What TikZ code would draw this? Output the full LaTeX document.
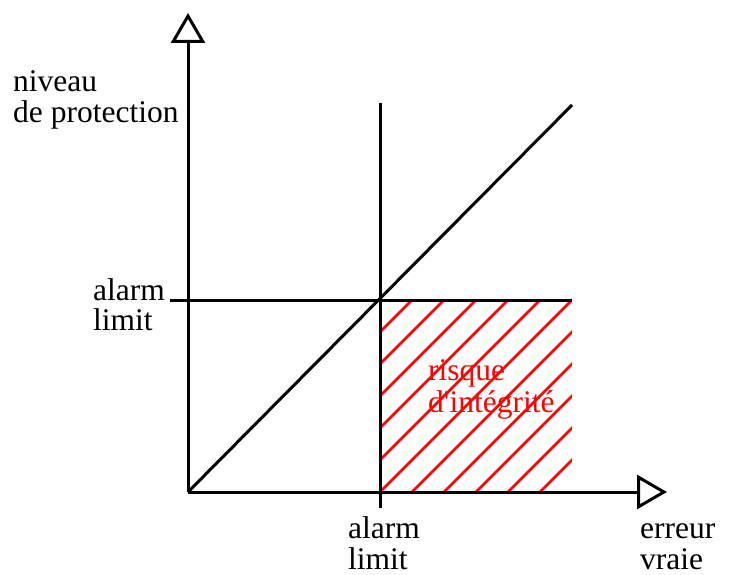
\documentclass[tikz,border=0pt]{standalone}
\usepackage{fontspec}
\setmainfont{Liberation Serif}
\usetikzlibrary{arrows.meta}
\begin{document}
\begin{tikzpicture}[x=1pt,y=-1pt,
  lbl/.style={anchor=base west,inner sep=0pt,font=\fontsize{31.5}{32}\selectfont},
  axis/.style={line width=3pt,-{Triangle[open,length=30pt,width=34pt]}},
  ln/.style={line width=3pt},
  hatch/.style={red,line width=2.6pt}]
\useasboundingbox (0,0) rectangle (731,575);
\coordinate (O) at (188,492);
\coordinate (ytip) at (188,13);
\coordinate (xtip) at (667,492);
\coordinate (vtop) at (380,103);
\coordinate (vbot) at (380,508);
\coordinate (hl) at (170,300);
\coordinate (hr) at (572,300);
\coordinate (dtop) at (572,105);
% hatching
\begin{scope}
  \clip (380,300) rectangle (572,492);
  \foreach \c in {-160,-128,...,160}
    \draw[hatch] (380+\c-60,492+60) -- (380+\c+260,492-260);
\end{scope}
% lines
\draw[ln] (vbot) -- (vtop);
\draw[ln] (hl) -- (hr);
\draw[ln] (O) -- (dtop);
\draw[axis] (O) -- (ytip);
\draw[axis] (O) -- (xtip);
% labels
\node[lbl] (n1) at (13,92) {niveau};
\node[lbl] (n2) at (13,123) {de protection};
\node[lbl] (a1) at (93,300) {alarm};
\node[lbl] (a2) at (93,330) {limit};
\node[lbl] (b1) at (348,538) {alarm};
\node[lbl] (b2) at (348,569) {limit};
\node[lbl] (e1) at (640,538) {erreur};
\node[lbl] (e2) at (640,569) {vraie};
\node[lbl,red] (r1) at (428,380) {risque};
\node[lbl,red] (r2) at (428,412) {d\textquotesingle intégrité};
\end{tikzpicture}
\end{document}
